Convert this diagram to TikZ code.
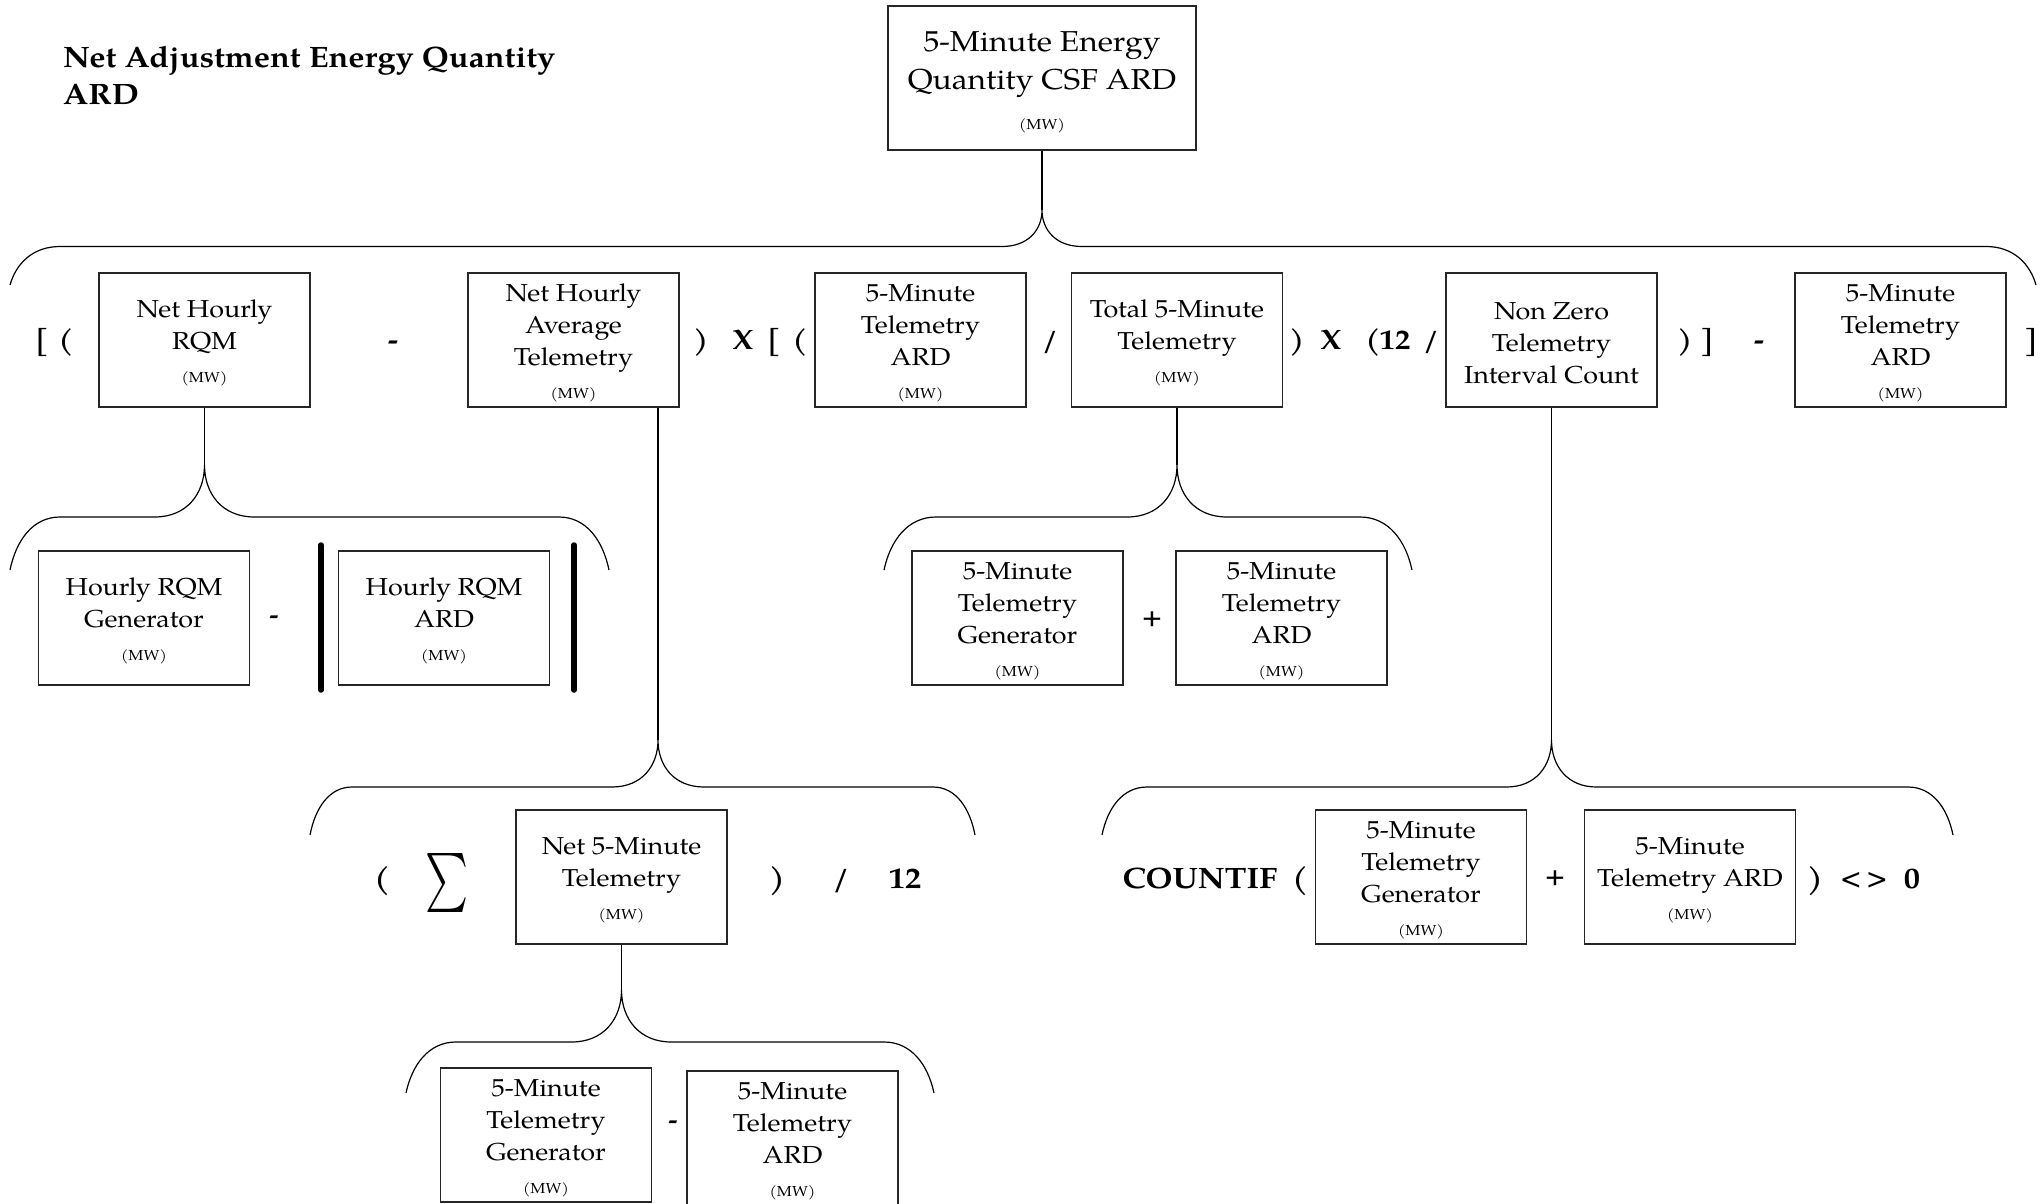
\documentclass[tikz,border=0pt]{standalone}
\usepackage{fontspec}
\usepackage{graphicx}
\setmainfont{TeX Gyre Pagella}[FakeStretch=1.1]
\newcommand\mybx{\fontsize{24.5}{32}\selectfont}
\newcommand\mymw{\fontsize{14.5}{32}\selectfont}
\newcommand\mytop{\fontsize{28.8}{38}\selectfont}
\newcommand\myttl{\fontsize{29.5}{37}\selectfont\bfseries}
\newcommand\myopa{\fontsize{28}{32}\selectfont\bfseries}
\newcommand\myopc{\fontsize{25}{30}\selectfont\bfseries}
\newcommand\myopb{\fontsize{29.5}{34}\selectfont\bfseries}
\newcommand\mystr{\rule{0pt}{24pt}}
\newcommand\mybrace[8]{%
  \draw[brc] (#1,#5) .. controls ({#1+0.12*#8},{#4+0.45*(#5-#4)}) and ({#1+0.45*#8},#4) .. ({#1+#8},#4)
   -- ({#3-#7},#4) .. controls ({#3-0.35*#7},#4) and (#3,{#4-0.45*(#4-#6)}) .. (#3,#6)
   .. controls (#3,{#4-0.45*(#4-#6)}) and ({#3+0.35*#7},#4) .. ({#3+#7},#4)
   -- ({#2-#8},#4) .. controls ({#2-0.45*#8},#4) and ({#2-0.12*#8},{#4+0.45*(#5-#4)}) .. (#2,#5);}
\begin{document}
\begin{tikzpicture}[x=1pt,y=-1pt,
  bx/.style={draw=black!85,line width=1.3pt,minimum width=211pt,minimum height=134pt,
    align=center,inner sep=0pt,font=\mybx},
  brc/.style={draw=black,line width=1.2pt},
  opa/.style={font=\myopa,inner sep=0pt,anchor=base},
  opb/.style={font=\myopb,inner sep=0pt,anchor=base},
  opc/.style={font=\myopc,inner sep=0pt,anchor=center},
  bar/.style={line width=5.5pt,line cap=round}]
\useasboundingbox (0,0) rectangle (2043,1203);
\fill[white] (0,0) rectangle (2043,1203);

% title
\node[anchor=north west,align=left,inner sep=0pt,font=\myttl] (ttl) at (63,46.5)
  {Net Adjustment Energy Quantity\\ARD};

% top box
\node[bx,minimum width=308pt,minimum height=144pt,font=\mytop] (top) at (1042,78)
  {\rule{0pt}{29pt}5-Minute Energy\\Quantity CSF ARD\\[2pt]{\mymw (MW)}};

% row 1
\node[bx] (nhr)  at (204.5,340) {\mystr Net Hourly\\RQM\\[1pt]{\mymw (MW)}};
\node[bx] (nhat) at (573.5,340) {\mystr Net Hourly\\Average\\Telemetry\\[1pt]{\mymw (MW)}};
\node[bx] (fta)  at (920.5,340) {\mystr 5-Minute\\Telemetry\\ARD\\[1pt]{\mymw (MW)}};
\node[bx] (tft)  at (1177,340)  {\mystr Total 5-Minute\\Telemetry\\[1pt]{\mymw (MW)}};
\node[bx] (nz)   at (1551.5,340) {\mystr Non Zero\\Telemetry\\Interval Count};
\node[bx] (ftar) at (1900.5,340) {\mystr 5-Minute\\Telemetry\\ARD\\[1pt]{\mymw (MW)}};

\node[opa] (r1a) at (42,349) {[};
\node[opa] (r1b) at (66,349) {(};
\node[opa] (r1c) at (393,349) {-};
\node[opa] (r1d) at (701,349) {)};
\node[opa] (r1e) at (743,349) {X};
\node[opa] (r1f) at (774,349) {[};
\node[opa] (r1g) at (800,349) {(};
\node[opa] (r1h) at (1050,349) {/};
\node[opa] (r1i) at (1297,349) {)};
\node[opa] (r1j) at (1331,349) {X};
\node[opa] (r1k) at (1373,349) {(};
\node[opa] (r1l) at (1395,349) {12};
\node[opa] (r1m) at (1431,349) {/};
\node[opa] (r1n) at (1685,349) {)};
\node[opa] (r1o) at (1707,349) {]};
\node[opa] (r1p) at (1759,349) {-};
\node[opa] (r1q) at (2031,349) {]};

% row 2
\node[bx] (hrg)  at (144,618)   {\mystr Hourly RQM\\Generator\\[1pt]{\mymw (MW)}};
\node[bx] (hra)  at (444,618)   {\mystr Hourly RQM\\ARD\\[1pt]{\mymw (MW)}};
\node[bx] (ftg)  at (1017.5,618) {\mystr 5-Minute\\Telemetry\\Generator\\[1pt]{\mymw (MW)}};
\node[bx] (fta2) at (1281.5,618) {\mystr 5-Minute\\Telemetry\\ARD\\[1pt]{\mymw (MW)}};
\node[opc] (r2a) at (274,620) {-};
\node[opc] (r2b) at (1152,619) {+};
\draw[bar] (321,545) -- (321,690);
\draw[bar] (574,545) -- (574,690);

% row 3
\node[bx] (nft)  at (621.5,877) {\mystr Net 5-Minute\\Telemetry\\[1pt]{\mymw (MW)}};
\node[bx] (ftg3) at (1421,877)  {\mystr 5-Minute\\Telemetry\\Generator\\[1pt]{\mymw (MW)}};
\node[bx] (fta3) at (1690,877)  {\mystr 5-Minute\\Telemetry ARD\\[1pt]{\mymw (MW)}};
\node[opb] (r3a) at (382,888) {(};
\node[inner sep=0pt] (sig) at (447,882.5) {\resizebox*{43pt}{59pt}{$\sum$}};
\node[opb] (r3b) at (777,888) {)};
\node[opb] (r3c) at (841,888) {/};
\node[opb] (r3d) at (905,888) {12};
\node[opb] (r3e) at (1200,888) {COUNTIF};
\node[opb] (r3f) at (1300,888) {(};
\node[opc] (r3g) at (1555,878) {+};
\node[opb] (r3h) at (1815,888) {)};
\node[opb,font=\myopc] (r3i) at (1851,886) {<};
\node[opb,font=\myopc] (r3j) at (1877,886) {>};
\node[opb] (r3k) at (1912,888) {0};

% row 4
\node[bx] (ftg4) at (546,1135)   {\mystr 5-Minute\\Telemetry\\Generator\\[1pt]{\mymw (MW)}};
\node[bx] (fta4) at (792.5,1138) {\mystr 5-Minute\\Telemetry\\ARD\\[1pt]{\mymw (MW)}};
\node[opc] (r4a) at (673,1125) {-};

% stems
\coordinate (c0) at (1042,210);
\coordinate (c1) at (204.5,465);
\coordinate (c2) at (1177,465);
\coordinate (c3) at (658,740);
\coordinate (c4) at (1551.5,740);
\coordinate (c5) at (621.5,990);
\draw[brc] (top.south) -- (c0);
\draw[brc] (nhr.south) -- (c1);
\draw[brc] (tft.south) -- (c2);
\draw[brc] (nhat.south -| c3) -- (c3);
\draw[brc] (nz.south) -- (c4);
\draw[brc] (nft.south) -- (c5);

% braces
\mybrace{10}{2036}{1042}{246.5}{285}{210}{40}{50}
\mybrace{10}{609}{204.5}{517}{570}{465}{50}{50}
\mybrace{884}{1412}{1177}{517}{570}{465}{50}{52}
\mybrace{310}{975}{658}{787}{835}{740}{46}{42}
\mybrace{1102}{1953}{1551.5}{787}{835}{740}{45}{45}
\mybrace{406}{934}{621.5}{1042}{1093}{990}{50}{50}
\end{tikzpicture}
\end{document}
